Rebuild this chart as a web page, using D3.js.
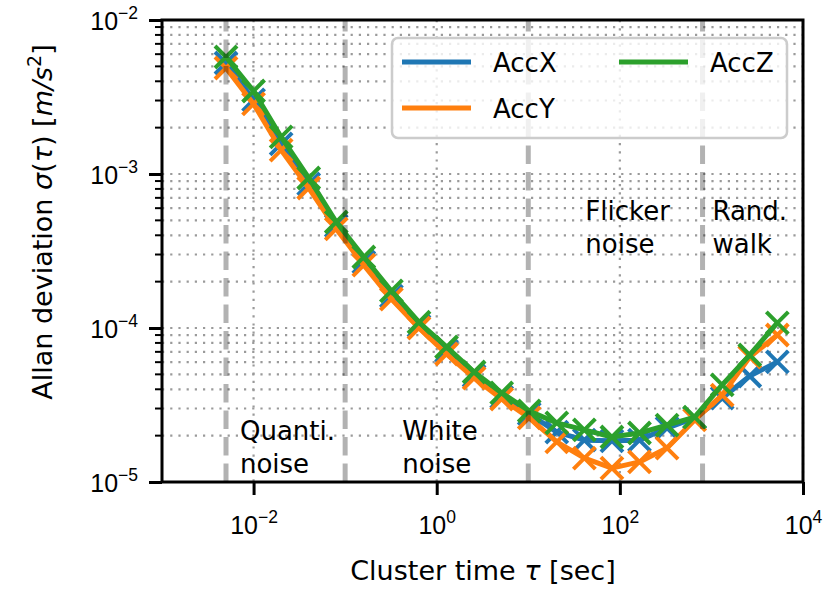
<!DOCTYPE html>
<html>
<head>
<meta charset="utf-8">
<script src="https://cdn.jsdelivr.net/npm/d3@7"></script>
<style>
  body { margin: 0; background: #fff; }
  svg { font-family: "DejaVu Sans", sans-serif; }
</style>
</head>
<body>
<svg width="836" height="589"></svg>
<script>
// cluster times (sec) and Allan deviation per axis
var tau = [0.005, 0.01, 0.02, 0.04, 0.08, 0.16, 0.32, 0.64, 1.28, 2.56, 5.12, 10.24,
           20.48, 40.96, 81.92, 163.84, 327.68, 655.36, 1310.72, 2621.44, 5242.88];
var accX = [5.26e-3, 3.03e-3, 1.57e-3, 8.61e-4, 4.60e-4, 2.68e-4, 1.61e-4, 1.03e-4, 7.10e-5, 4.88e-5, 3.56e-5,
            2.77e-5, 2.11e-5, 1.87e-5, 1.85e-5, 1.87e-5, 2.24e-5, 2.61e-5, 3.51e-5, 4.88e-5, 6.02e-5];
var accY = [4.88e-3, 2.85e-3, 1.43e-3, 8.11e-4, 4.40e-4, 2.56e-4, 1.54e-4, 1.00e-4, 6.78e-5, 4.73e-5, 3.46e-5,
            2.61e-5, 1.82e-5, 1.43e-5, 1.23e-5, 1.35e-5, 1.66e-5, 2.53e-5, 3.67e-5, 6.48e-5, 9.01e-5];
var accZ = [5.75e-3, 3.46e-3, 1.74e-3, 9.42e-4, 4.88e-4, 2.89e-4, 1.74e-4, 1.09e-4, 7.53e-5, 5.18e-5, 3.79e-5,
            2.89e-5, 2.42e-5, 2.18e-5, 1.96e-5, 2.08e-5, 2.34e-5, 2.64e-5, 4.27e-5, 6.68e-5, 1.08e-4];
var seriesNames = ["AccX", "AccY", "AccZ"];
var seriesColors = ["#1f77b4", "#ff7f0e", "#2ca02c"];

// region boundaries and labels
var regionBounds = [0.005, 0.1, 10, 800];
var regionLabels = [["Quanti.", "noise"], ["White", "noise"], ["Flicker", "noise"], ["Rand.", "walk"]];
var regionLabelX = [0.0071, 0.42, 42, 1026];
var regionLabelY = [1.87e-5, 1.87e-5, 5.0e-4, 5.0e-4];

var xTicks = [1e-2, 1e0, 1e2, 1e4];
var xTickExp = ["\u22122", "0", "2", "4"];
var yTicks = [1e-5, 1e-4, 1e-3, 1e-2];
var yTickExp = ["\u22125", "\u22124", "\u22123", "\u22122"];

var margin = {top: 20, right: 33, bottom: 107, left: 162},
    width = 836 - margin.left - margin.right,
    height = 589 - margin.top - margin.bottom;

var svg = d3.select("svg")
  .append("g")
  .attr("transform", "translate(" + margin.left + "," + margin.top + ")");

var x = d3.scaleLog().domain([1e-3, 1e4]).range([0, width]);
var y = d3.scaleLog().domain([1e-5, 1e-2]).range([height, 0]);

// minor y values 2..9 per decade
var yMinor = [];
[1e-5, 1e-4, 1e-3].forEach(function (d) {
  for (var k = 2; k <= 9; k++) yMinor.push(d * k);
});

// grid
var grid = svg.append("g");
grid.selectAll("line.hg")
  .data(yTicks.concat(yMinor))
  .enter().append("line")
  .attr("x1", 0).attr("x2", width)
  .attr("y1", function (d) { return y(d); })
  .attr("y2", function (d) { return y(d); })
  .attr("stroke", "#9a9a9a")
  .attr("stroke-width", 2.2)
  .attr("stroke-dasharray", "2.2,6");
grid.selectAll("line.vg")
  .data(xTicks)
  .enter().append("line")
  .attr("y1", 0).attr("y2", height)
  .attr("x1", function (d) { return x(d); })
  .attr("x2", function (d) { return x(d); })
  .attr("stroke", "#9a9a9a")
  .attr("stroke-width", 2.2)
  .attr("stroke-dasharray", "2.2,6");

// series
var line = d3.line()
  .x(function (d) { return x(d[0]); })
  .y(function (d) { return y(d[1]); });

[accX, accY, accZ].forEach(function (vals, i) {
  var pts = tau.map(function (t, j) { return [t, vals[j]]; });
  svg.append("path")
    .datum(pts)
    .attr("d", line)
    .attr("fill", "none")
    .attr("stroke", seriesColors[i])
    .attr("stroke-width", 5)
    .attr("stroke-linejoin", "round");
  svg.append("g").selectAll("path")
    .data(pts)
    .enter().append("path")
    .attr("transform", function (d) { return "translate(" + x(d[0]) + "," + y(d[1]) + ")"; })
    .attr("d", "M-11,-11L11,11M-11,11L11,-11")
    .attr("stroke", seriesColors[i])
    .attr("stroke-width", 4);
});

// region boundaries (dashed)
svg.append("g").selectAll("line")
  .data(regionBounds)
  .enter().append("line")
  .attr("x1", function (d) { return x(d); })
  .attr("x2", function (d) { return x(d); })
  .attr("y1", height).attr("y2", 0)
  .attr("stroke", "#000")
  .attr("stroke-opacity", 0.3)
  .attr("stroke-width", 5)
  .attr("stroke-dasharray", "18.5,8");

// region labels
regionLabels.forEach(function (lbl, i) {
  var t = svg.append("text")
    .attr("x", x(regionLabelX[i]))
    .attr("y", y(regionLabelY[i]))
    .attr("font-size", 26)
    .attr("fill", "#000");
  lbl.forEach(function (s, k) {
    t.append("tspan")
      .attr("x", x(regionLabelX[i]))
      .attr("dy", k === 0 ? 0 : 33)
      .text(s);
  });
});

// axes
var xAxis = svg.append("g")
  .attr("transform", "translate(0," + height + ")")
  .call(d3.axisBottom(x).tickValues(xTicks).tickSize(13).tickFormat(""));
var yAxis = svg.append("g")
  .call(d3.axisLeft(y).tickValues(yTicks).tickSize(13).tickFormat(""));
yAxis.selectAll(".minor")
  .data(yMinor)
  .enter().append("line")
  .attr("class", "minor")
  .attr("x1", -7).attr("x2", 0)
  .attr("y1", function (d) { return y(d); })
  .attr("y2", function (d) { return y(d); })
  .attr("stroke", "#000")
  .attr("stroke-width", 2);
[xAxis, yAxis].forEach(function (a) {
  a.select(".domain").remove();
  a.selectAll(".tick line").attr("stroke", "#000").attr("stroke-width", 3);
});

xAxis.selectAll(".tick").each(function (d, i) {
  var t = d3.select(this).append("text")
    .attr("y", 52)
    .attr("text-anchor", "middle")
    .attr("fill", "#000")
    .attr("font-size", 25);
  t.append("tspan").text("10");
  t.append("tspan").attr("dy", -11).attr("font-size", 17.5).text(xTickExp[i]);
});
yAxis.selectAll(".tick").each(function (d, i) {
  var t = d3.select(this).append("text")
    .attr("x", -24)
    .attr("y", 9)
    .attr("text-anchor", "end")
    .attr("fill", "#000")
    .attr("font-size", 25);
  t.append("tspan").text("10");
  t.append("tspan").attr("dy", -11).attr("font-size", 17.5).text(yTickExp[i]);
});

// frame
svg.append("rect")
  .attr("width", width).attr("height", height)
  .attr("fill", "none")
  .attr("stroke", "#000")
  .attr("stroke-width", 3);

// axis titles
var xt = svg.append("text")
  .attr("x", 483 - margin.left)
  .attr("y", 580 - margin.top)
  .attr("text-anchor", "middle")
  .attr("font-size", 27)
  .attr("fill", "#000");
xt.append("tspan").text("Cluster time ");
xt.append("tspan").attr("font-style", "italic").text("\u03c4");
xt.append("tspan").text(" [sec]");

var yt = svg.append("text")
  .attr("transform", "translate(" + (52 - margin.left) + "," + (222 - margin.top) + ") rotate(-90)")
  .attr("text-anchor", "middle")
  .attr("font-size", 27)
  .attr("fill", "#000");
yt.append("tspan").text("Allan deviation ");
yt.append("tspan").attr("font-style", "italic").text("\u03c3");
yt.append("tspan").text("(");
yt.append("tspan").attr("font-style", "italic").text("\u03c4");
yt.append("tspan").text(") [");
yt.append("tspan").attr("font-style", "italic").text("m/s");
yt.append("tspan").attr("dy", -11).attr("font-size", 19).text("2");
yt.append("tspan").attr("dy", 11).text("]");

// legend
var legend = svg.append("g")
  .attr("transform", "translate(" + (392 - margin.left) + "," + (38 - margin.top) + ")");
legend.append("rect")
  .attr("width", 395).attr("height", 100)
  .attr("rx", 6)
  .attr("fill", "#fff").attr("fill-opacity", 0.8)
  .attr("stroke", "#cccccc").attr("stroke-width", 2.5);
var legendPos = [[10, 24], [10, 70], [227, 24]];
seriesNames.forEach(function (name, i) {
  var g = legend.append("g")
    .attr("transform", "translate(" + legendPos[i][0] + "," + legendPos[i][1] + ")");
  g.append("line")
    .attr("x1", 0).attr("x2", 69)
    .attr("stroke", seriesColors[i])
    .attr("stroke-width", 5);
  g.append("text")
    .attr("x", 91).attr("y", 10)
    .attr("font-size", 26)
    .attr("fill", "#000")
    .text(name);
});
</script>
</body>
</html>
